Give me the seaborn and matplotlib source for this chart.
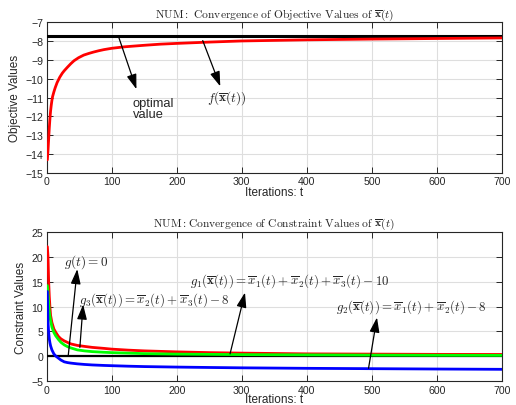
import matplotlib
matplotlib.use("Agg")
import matplotlib.pyplot as plt
import seaborn as sns
import pandas as pd

# ---------------- data ----------------
obj_t = [1, 2, 3, 4, 5, 6, 7, 8, 9, 11, 13, 16, 20, 24, 27, 32, 37, 42, 49, 57, 65, 72,
         80, 88, 100, 120, 150, 175, 200, 250, 300, 400, 500, 600, 700]
obj_f = [-14.3, -13.8, -13.2, -12.6, -12.1, -11.7, -11.4, -11.15, -10.95, -10.7, -10.48,
         -10.2, -9.92, -9.7, -9.57, -9.38, -9.2, -9.04, -8.88, -8.74, -8.65, -8.58,
         -8.51, -8.45, -8.38, -8.3, -8.22, -8.16, -8.12, -8.05, -7.99, -7.93, -7.89,
         -7.86, -7.83]
optimal_value = -7.71

con_t = [1, 2, 3, 4, 5, 6, 8, 11, 14, 18, 22, 27, 32, 37, 47, 58, 70, 88, 100, 125, 150,
         200, 250, 300, 400, 500, 600, 700]
g1_vals = [22, 20, 15, 12, 9.8, 8.2, 6.8, 5.5, 4.8, 4.0, 3.5, 3.1, 2.8, 2.5, 2.2, 2.0,
           1.8, 1.6, 1.45, 1.25, 1.1, 0.9, 0.75, 0.65, 0.5, 0.45, 0.4, 0.38]
g3_vals = [14.2, 12.8, 10.8, 9.0, 8.0, 7.2, 5.9, 4.8, 4.1, 3.4, 2.8, 2.3, 1.95, 1.7, 1.3,
           1.1, 0.95, 0.82, 0.75, 0.65, 0.55, 0.45, 0.4, 0.35, 0.3, 0.25, 0.22, 0.2]
g2_vals = [13, 6.9, 4.8, 3.5, 2.7, 2.1, 1.3, 0.5, 0.05, -0.35, -0.75, -1.1, -1.25, -1.35,
           -1.5, -1.62, -1.72, -1.82, -1.87, -1.97, -2.05, -2.15, -2.23, -2.3, -2.4,
           -2.47, -2.54, -2.6]
zero_line = 0.0

top_yticks = [-7, -8, -9, -10, -11, -12, -13, -14, -15]
bot_yticks = [25, 20, 15, 10, 5, 0, -5]
xticks = [0, 100, 200, 300, 400, 500, 600, 700]

# ---------------- style ----------------
sns.set_theme(style="whitegrid")
plt.rcParams["font.family"] = ["Liberation Sans", "DejaVu Sans"]
plt.rcParams["mathtext.fontset"] = "cm"

fig = plt.figure(figsize=(5.16, 4.06), dpi=100)
ax1 = fig.add_axes([0.0905, 0.5714, 0.882, 0.3712])
ax2 = fig.add_axes([0.0905, 0.0584, 0.882, 0.3684])

def style_axes(ax):
    ax.set_facecolor("white")
    ax.grid(True, color="#dedede", lw=0.8)
    for s in ax.spines.values():
        s.set_color("#262626")
        s.set_linewidth(0.8)
    ax.tick_params(direction="in", length=4, width=0.7, colors="#262626",
                   labelsize=7.6, top=True, right=True, bottom=True, left=True, pad=2.5)
    ax.set_xlim(0, 700)
    ax.set_xticks(xticks)

arrow = dict(arrowstyle="-|>,head_length=0.75,head_width=0.25", color="black", lw=0.9,
             shrinkA=0, shrinkB=0)

# ---------------- top ----------------
df_obj = pd.DataFrame({"t": obj_t, "f": obj_f})
ax1.axhline(optimal_value, color="black", lw=2.2, zorder=3)
sns.lineplot(data=df_obj, x="t", y="f", ax=ax1, color="red", lw=2.0, estimator=None, zorder=4)
style_axes(ax1)
ax1.set_ylim(-15, -7)
ax1.set_yticks(top_yticks)
ax1.set_xlabel("Iterations: t", fontsize=8.5, labelpad=0, color="#262626")
ax1.set_ylabel("Objective Values", fontsize=8.5, labelpad=3, color="#262626")
ax1.set_title(r"$\mathrm{NUM{:}\ Convergence\ of\ Objective\ Values\ of\ }\overline{\mathbf{x}}(t)$",
              fontsize=8.3, pad=4)

ax1.annotate("", xy=(138, -10.55), xytext=(110, -7.71), arrowprops=arrow, zorder=5)
ax1.text(132, -10.95, "optimal\nvalue", fontsize=9.3, ha="left", va="top", linespacing=0.95)
ax1.annotate("", xy=(267, -10.4), xytext=(240, -7.97), arrowprops=arrow, zorder=5)
ax1.text(247, -10.97, r"$f(\overline{\mathbf{x}}(t))$", fontsize=9.5, ha="left", va="center")

# ---------------- bottom ----------------
df_con = pd.DataFrame({
    "t": con_t * 3,
    "v": g1_vals + g3_vals + g2_vals,
    "g": ["g1"] * len(con_t) + ["g3"] * len(con_t) + ["g2"] * len(con_t),
})
ax2.axhline(zero_line, color="black", lw=1.6, zorder=3)
sns.lineplot(data=df_con, x="t", y="v", hue="g", ax=ax2,
             palette={"g1": "red", "g3": "#00ff00", "g2": "blue"},
             lw=2.0, estimator=None, legend=False, zorder=4)
style_axes(ax2)
ax2.set_ylim(-5, 25)
ax2.set_yticks(bot_yticks)
ax2.set_xlabel("Iterations: t", fontsize=8.5, labelpad=-1, color="#262626")
ax2.set_ylabel("Constraint Values", fontsize=8.5, labelpad=3, color="#262626")
ax2.set_title(r"$\mathrm{NUM{:}Convergence\ of\ Constraint\ Values\ of\ }\overline{\mathbf{x}}(t)$",
              fontsize=8.3, pad=4)

ax2.annotate("", xy=(47, 17.5), xytext=(33, 0), arrowprops=arrow, zorder=5)
ax2.text(27, 19.2, r"$g(t) = 0$", fontsize=9.5, ha="left", va="center")
ax2.annotate("", xy=(56, 10.4), xytext=(51, 1.8), arrowprops=arrow, zorder=5)
ax2.text(50, 11.5, r"$g_3(\overline{\mathbf{x}}(t)) = \overline{x}_2(t) + \overline{x}_3(t) - 8$",
         fontsize=9.3, ha="left", va="center")
ax2.annotate("", xy=(305, 12.8), xytext=(282, 0.5), arrowprops=arrow, zorder=5)
ax2.text(221, 15.3, r"$g_1(\overline{\mathbf{x}}(t)) = \overline{x}_1(t) + \overline{x}_2(t) + \overline{x}_3(t) - 10$",
         fontsize=9.3, ha="left", va="center")
ax2.annotate("", xy=(508, 7.8), xytext=(495, -2.4), arrowprops=arrow, zorder=5)
ax2.text(445, 10, r"$g_2(\overline{\mathbf{x}}(t)) = \overline{x}_1(t) + \overline{x}_2(t) - 8$",
         fontsize=9.3, ha="left", va="center")

fig.savefig("out.png", dpi=100, facecolor="white")
